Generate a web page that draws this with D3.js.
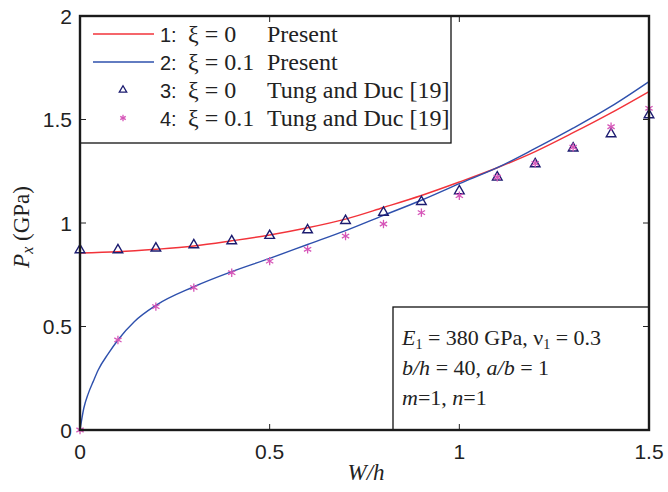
<!DOCTYPE html>
<html>
<head>
<meta charset="utf-8">
<script src="https://cdn.jsdelivr.net/npm/d3@7"></script>
<style>
html,body{margin:0;padding:0;background:#fff;}
svg{display:block;}
</style>
</head>
<body>
<svg id="chart" width="668" height="492"></svg>
<script>
// ---------- data ----------
const xTicks = [0, 0.5, 1, 1.5];
const xTickLabels = ["0", "0.5", "1", "1.5"];
const yTicks = [0, 0.5, 1, 1.5, 2];
const yTickLabels = ["0", "0.5", "1", "1.5", "2"];

// Curve 1: xi = 0, Present
const presentXi0W = [0, 0.1, 0.2, 0.3, 0.4, 0.5, 0.6, 0.7, 0.8, 0.9, 1.0, 1.1, 1.2, 1.3, 1.4, 1.5];
const presentXi0P = [0.855, 0.861, 0.873, 0.889, 0.914, 0.942, 0.977, 1.019, 1.075, 1.133, 1.198, 1.267, 1.345, 1.436, 1.532, 1.635];

// Curve 2: xi = 0.1, Present
const presentXi01W = [0, 0.01, 0.022, 0.035, 0.048, 0.075, 0.1, 0.143, 0.2, 0.3, 0.4, 0.5, 0.6, 0.7, 0.8, 0.9, 1.0, 1.1, 1.2, 1.3, 1.4, 1.5];
const presentXi01P = [0, 0.105, 0.177, 0.235, 0.29, 0.37, 0.435, 0.523, 0.602, 0.692, 0.765, 0.829, 0.896, 0.963, 1.037, 1.11, 1.19, 1.267, 1.36, 1.458, 1.563, 1.683];

// Markers 3: xi = 0, Tung and Duc
const tungXi0W = [0, 0.1, 0.2, 0.3, 0.4, 0.5, 0.6, 0.7, 0.8, 0.9, 1.0, 1.1, 1.2, 1.3, 1.4, 1.5];
const tungXi0P = [0.87, 0.87, 0.878, 0.894, 0.913, 0.939, 0.966, 1.011, 1.051, 1.103, 1.155, 1.221, 1.285, 1.361, 1.43, 1.522];

// Markers 4: xi = 0.1, Tung and Duc
const tungXi01W = [0, 0.1, 0.2, 0.3, 0.4, 0.5, 0.6, 0.7, 0.8, 0.9, 1.0, 1.1, 1.2, 1.3, 1.4, 1.5];
const tungXi01P = [0, 0.435, 0.596, 0.688, 0.76, 0.816, 0.873, 0.937, 0.995, 1.05, 1.132, 1.221, 1.288, 1.366, 1.465, 1.554];

const legendNums = ["1:", "2:", "3:", "4:"];
const legendXi = ["ξ = 0", "ξ = 0.1", "ξ = 0", "ξ = 0.1"];
const legendSrc = ["Present", "Present", "Tung and Duc [19]", "Tung and Duc [19]"];

// ---------- drawing ----------
const svg = d3.select("#chart");
const L = 80, R = 649, T = 16, B = 430;
const x = d3.scaleLinear().domain([0, 1.5]).range([L, R]);
const y = d3.scaleLinear().domain([0, 2]).range([B, T]);

const RED = "#f2333a", BLUE = "#2e50ad", NAVY = "#1c1c70", PINK = "#d656b8";
const serif = "'Liberation Serif','Times New Roman',serif";
const sans = "'Liberation Sans',Arial,sans-serif";
const narrow = "'Liberation Sans Narrow','Arial Narrow','Liberation Sans',sans-serif";

// curves
const line = d3.line().x(d => x(d[0])).y(d => y(d[1])).curve(d3.curveMonotoneX);
svg.append("path").datum(d3.zip(presentXi0W, presentXi0P))
  .attr("d", line).attr("fill", "none").attr("stroke", RED).attr("stroke-width", 1.4);
svg.append("path").datum(d3.zip(presentXi01W, presentXi01P))
  .attr("d", line).attr("fill", "none").attr("stroke", BLUE).attr("stroke-width", 1.4);

// markers
const tri = d3.symbol().type(d3.symbolTriangle).size(40);
const triSmall = d3.symbol().type(d3.symbolTriangle).size(24);
function asterisk(g, cx, cy, r) {
  [90, 30, 150].forEach(a => {
    const rad = a * Math.PI / 180;
    g.append("line")
      .attr("x1", cx - r * Math.cos(rad)).attr("y1", cy - r * Math.sin(rad))
      .attr("x2", cx + r * Math.cos(rad)).attr("y2", cy + r * Math.sin(rad))
      .attr("stroke", PINK).attr("stroke-width", 1.3);
  });
}
const gTri = svg.append("g");
d3.zip(tungXi0W, tungXi0P).forEach(d => {
  gTri.append("path").attr("d", tri)
    .attr("transform", `translate(${x(d[0])},${y(d[1])})`)
    .attr("fill", "none").attr("stroke", NAVY).attr("stroke-width", 1.4);
});
const gAst = svg.append("g");
d3.zip(tungXi01W, tungXi01P).forEach(d => asterisk(gAst, x(d[0]), y(d[1]), 4.2));

// legend box
const lg = svg.append("g");
lg.append("rect").attr("x", L).attr("y", T).attr("width", 451 - L).attr("height", 143 - T)
  .attr("fill", "#fff").attr("stroke", "#111").attr("stroke-width", 1.3);
const rowY = [34, 62, 90, 118];
lg.append("line").attr("x1", 93).attr("x2", 154).attr("y1", rowY[0]).attr("y2", rowY[0]).attr("stroke", RED).attr("stroke-width", 1.4);
lg.append("line").attr("x1", 93).attr("x2", 154).attr("y1", rowY[1]).attr("y2", rowY[1]).attr("stroke", BLUE).attr("stroke-width", 1.4);
lg.append("path").attr("d", triSmall).attr("transform", `translate(123,${rowY[2]})`)
  .attr("fill", "none").attr("stroke", NAVY).attr("stroke-width", 1.3);
asterisk(lg, 123, rowY[3], 3.2);
legendNums.forEach((t, i) => {
  lg.append("text").attr("x", 160).attr("y", rowY[i] + 7.5).text(t)
    .attr("font-family", narrow).attr("font-size", 20).attr("fill", "#222");
  lg.append("text").attr("x", 188).attr("y", rowY[i] + 7.5).text(legendXi[i])
    .attr("font-family", serif).attr("font-size", 24).attr("fill", "#222");
  lg.append("text").attr("x", 267).attr("y", rowY[i] + 7.5).text(legendSrc[i])
    .attr("font-family", serif).attr("font-size", 24).attr("fill", "#222");
});

// annotation box
const ab = svg.append("g");
ab.append("rect").attr("x", 393).attr("y", 307).attr("width", R - 393).attr("height", B - 307)
  .attr("fill", "#fff").attr("stroke", "#111").attr("stroke-width", 1.3);
const t1 = ab.append("text").attr("x", 402).attr("y", 345).attr("font-family", serif).attr("font-size", 22).attr("fill", "#222");
t1.append("tspan").attr("font-style", "italic").text("E");
t1.append("tspan").attr("font-size", 14).attr("dy", 4).text("1");
t1.append("tspan").attr("dy", -4).text(" = 380 GPa, ν");
t1.append("tspan").attr("font-size", 14).attr("dy", 4).text("1");
t1.append("tspan").attr("dy", -4).text(" = 0.3");
const t2 = ab.append("text").attr("x", 402).attr("y", 375).attr("font-family", serif).attr("font-size", 22).attr("fill", "#222");
t2.append("tspan").attr("font-style", "italic").text("b/h");
t2.append("tspan").text(" = 40, ");
t2.append("tspan").attr("font-style", "italic").text("a/b");
t2.append("tspan").text(" = 1");
const t3 = ab.append("text").attr("x", 402).attr("y", 405).attr("font-family", serif).attr("font-size", 22).attr("fill", "#222");
t3.append("tspan").attr("font-style", "italic").text("m");
t3.append("tspan").text("=1, ");
t3.append("tspan").attr("font-style", "italic").text("n");
t3.append("tspan").text("=1");

// axes frame + ticks
const ax = svg.append("g");
const TL = 6;
xTicks.forEach(v => {
  ax.append("line").attr("x1", x(v)).attr("x2", x(v)).attr("y1", B).attr("y2", B - TL).attr("stroke", "#222").attr("stroke-width", 1);
  ax.append("line").attr("x1", x(v)).attr("x2", x(v)).attr("y1", T).attr("y2", T + TL).attr("stroke", "#222").attr("stroke-width", 1);
});
yTicks.forEach(v => {
  ax.append("line").attr("x1", L).attr("x2", L + TL).attr("y1", y(v)).attr("y2", y(v)).attr("stroke", "#222").attr("stroke-width", 1);
  ax.append("line").attr("x1", R).attr("x2", R - TL).attr("y1", y(v)).attr("y2", y(v)).attr("stroke", "#222").attr("stroke-width", 1);
});
ax.append("rect").attr("x", L).attr("y", T).attr("width", R - L).attr("height", B - T)
  .attr("fill", "none").attr("stroke", "#1a1a1a").attr("stroke-width", 2.4);

xTicks.forEach((v, i) => {
  ax.append("text").attr("x", x(v)).attr("y", 459).attr("text-anchor", "middle")
    .attr("font-family", sans).attr("font-size", 21).attr("fill", "#222").text(xTickLabels[i]);
});
yTicks.forEach((v, i) => {
  ax.append("text").attr("x", 72).attr("y", y(v) + 7.5).attr("text-anchor", "end")
    .attr("font-family", sans).attr("font-size", 21).attr("fill", "#222").text(yTickLabels[i]);
});

// axis titles
const xl = svg.append("text").attr("x", 366).attr("y", 480).attr("text-anchor", "middle")
  .attr("font-family", serif).attr("font-size", 23).attr("font-style", "italic").attr("fill", "#222");
xl.text("W/h");
const yl = svg.append("text").attr("transform", "translate(29,227) rotate(-90)").attr("text-anchor", "middle")
  .attr("font-family", serif).attr("font-size", 23).attr("fill", "#222");
yl.append("tspan").attr("font-style", "italic").text("P");
yl.append("tspan").attr("font-style", "italic").attr("font-size", 16).attr("dy", 4).text("x");
yl.append("tspan").attr("dy", -4).text(" (GPa)");
</script>
</body>
</html>
